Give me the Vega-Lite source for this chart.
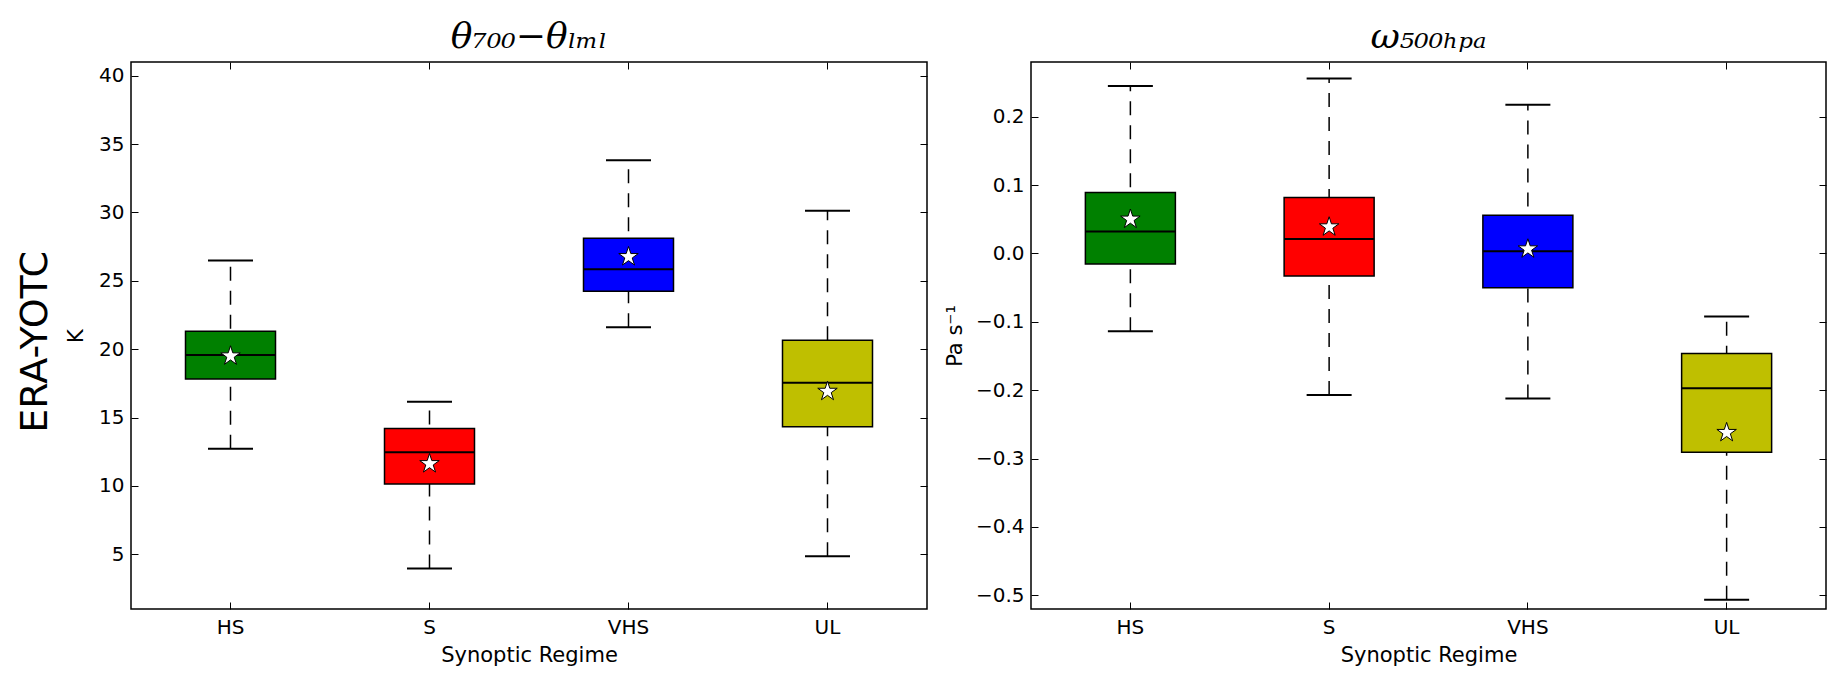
{
  "$schema": "https://vega.github.io/schema/vega-lite/v6.json",
  "background": "white",
  "padding": {"left": 16, "top": 17, "right": 10, "bottom": 2},
  "title": {"text": "ERA-YOTC", "orient": "left", "anchor": "middle", "font": "DejaVu Sans", "fontSize": 38, "fontWeight": "normal", "color": "black", "offset": 10},
  "datasets": {
    "theta": [
      {"regime": "HS", "lower": 12.72, "q1": 17.82, "median": 19.58, "q3": 21.31, "upper": 26.48, "mean": 19.5},
      {"regime": "S", "lower": 3.97, "q1": 10.14, "median": 12.47, "q3": 14.2, "upper": 16.15, "mean": 11.62},
      {"regime": "VHS", "lower": 21.6, "q1": 24.24, "median": 25.85, "q3": 28.12, "upper": 33.81, "mean": 26.76},
      {"regime": "UL", "lower": 4.85, "q1": 14.33, "median": 17.54, "q3": 20.65, "upper": 30.13, "mean": 16.91}
    ],
    "omega": [
      {"regime": "HS", "lower": -0.1137, "q1": -0.0155, "median": 0.032, "q3": 0.089, "upper": 0.245, "mean": 0.05},
      {"regime": "S", "lower": -0.207, "q1": -0.033, "median": 0.021, "q3": 0.082, "upper": 0.256, "mean": 0.0387},
      {"regime": "VHS", "lower": -0.212, "q1": -0.05, "median": 0.0034, "q3": 0.056, "upper": 0.2175, "mean": 0.0065},
      {"regime": "UL", "lower": -0.5065, "q1": -0.2906, "median": -0.197, "q3": -0.1464, "upper": -0.0923, "mean": -0.262}
    ]
  },
  "hconcat": [
    {
      "width": 796,
      "height": 547,
      "data": {"name": "theta"},
      "title": {"text": "θ₇₀₀−θₗₘₗ", "font": "DejaVu Serif", "fontStyle": "italic", "fontSize": 36, "fontWeight": "normal", "color": "black", "offset": 6},
      "layer": [
        {
          "mark": {"type": "rule", "strokeDash": [14, 10], "strokeWidth": 1.5, "color": "black"},
          "encoding": {
            "x": {"field": "regime", "type": "nominal", "scale": {"type": "band", "domain": ["HS", "S", "VHS", "UL"], "paddingInner": 0, "paddingOuter": 0},
                  "axis": {"orient": "bottom", "title": "Synoptic Regime", "labelAngle": 0, "bandPosition": 0.5, "tickSize": -7, "labelPadding": 15, "titlePadding": 7, "titleFontSize": 21}},
            "y": {"field": "lower", "type": "quantitative", "scale": {"domain": [1, 41], "nice": false, "zero": false},
                  "axis": {"orient": "left", "title": "K", "values": [5, 10, 15, 20, 25, 30, 35, 40], "tickSize": -7, "labelPadding": 14, "titlePadding": 12, "titleFontSize": 21}},
            "y2": {"field": "upper"}
          }
        },
        {
          "mark": {"type": "bar", "width": 90, "stroke": "black", "strokeWidth": 1.5, "opacity": 1},
          "encoding": {
            "x": {"field": "regime", "type": "nominal", "scale": {"type": "band", "domain": ["HS", "S", "VHS", "UL"], "paddingInner": 0, "paddingOuter": 0}, "axis": null},
            "y": {"field": "q1", "type": "quantitative", "axis": null},
            "y2": {"field": "q3"},
            "color": {"field": "regime", "type": "nominal", "scale": {"domain": ["HS", "S", "VHS", "UL"], "range": ["#008000", "#ff0000", "#0000ff", "#bfbf00"]}, "legend": null}
          }
        },
        {
          "mark": {"type": "tick", "size": 90, "thickness": 2, "color": "black", "opacity": 1},
          "encoding": {
            "x": {"field": "regime", "type": "nominal", "scale": {"type": "band", "domain": ["HS", "S", "VHS", "UL"], "paddingInner": 0, "paddingOuter": 0}, "axis": null},
            "y": {"field": "median", "type": "quantitative", "axis": null}
          }
        },
        {
          "mark": {"type": "tick", "size": 45, "thickness": 2, "color": "black", "opacity": 1},
          "encoding": {
            "x": {"field": "regime", "type": "nominal", "scale": {"type": "band", "domain": ["HS", "S", "VHS", "UL"], "paddingInner": 0, "paddingOuter": 0}, "axis": null},
            "y": {"field": "lower", "type": "quantitative", "axis": null}
          }
        },
        {
          "mark": {"type": "tick", "size": 45, "thickness": 2, "color": "black", "opacity": 1},
          "encoding": {
            "x": {"field": "regime", "type": "nominal", "scale": {"type": "band", "domain": ["HS", "S", "VHS", "UL"], "paddingInner": 0, "paddingOuter": 0}, "axis": null},
            "y": {"field": "upper", "type": "quantitative", "axis": null}
          }
        },
        {
          "mark": {"type": "point", "shape": "M0,-1L0.2245,-0.309L0.951,-0.309L0.363,0.118L0.588,0.809L0,0.382L-0.588,0.809L-0.363,0.118L-0.951,-0.309L-0.2245,-0.309Z", "size": 420, "filled": true, "fill": "white", "stroke": "black", "strokeWidth": 1, "opacity": 1},
          "encoding": {
            "x": {"field": "regime", "type": "nominal", "scale": {"type": "band", "domain": ["HS", "S", "VHS", "UL"], "paddingInner": 0, "paddingOuter": 0},
                  "axis": {"orient": "top", "labels": false, "title": null, "bandPosition": 0.5, "tickSize": -7}},
            "y": {"field": "mean", "type": "quantitative",
                  "axis": {"orient": "right", "labels": false, "title": null, "values": [5, 10, 15, 20, 25, 30, 35, 40], "tickSize": -7}}
          }
        }
      ],
      "resolve": {"axis": {"x": "independent", "y": "independent"}}
    },
    {
      "width": 795,
      "height": 547,
      "data": {"name": "omega"},
      "title": {"text": "ω₅₀₀ₕₚₐ", "font": "DejaVu Serif", "fontStyle": "italic", "fontSize": 36, "fontWeight": "normal", "color": "black", "offset": 6},
      "layer": [
        {
          "mark": {"type": "rule", "strokeDash": [14, 10], "strokeWidth": 1.5, "color": "black"},
          "encoding": {
            "x": {"field": "regime", "type": "nominal", "scale": {"type": "band", "domain": ["HS", "S", "VHS", "UL"], "paddingInner": 0, "paddingOuter": 0},
                  "axis": {"orient": "bottom", "title": "Synoptic Regime", "labelAngle": 0, "bandPosition": 0.5, "tickSize": -7, "labelPadding": 15, "titlePadding": 7, "titleFontSize": 21}},
            "y": {"field": "lower", "type": "quantitative", "scale": {"domain": [-0.52, 0.28], "nice": false, "zero": false},
                  "axis": {"orient": "left", "title": "Pa s⁻¹", "values": [-0.5, -0.4, -0.3, -0.2, -0.1, 0, 0.1, 0.2], "labelExpr": "replace(format(datum.value, '.1f'), '-', '−')", "tickSize": -7, "labelPadding": 14, "titlePadding": 10, "titleFontSize": 21}},
            "y2": {"field": "upper"}
          }
        },
        {
          "mark": {"type": "bar", "width": 90, "stroke": "black", "strokeWidth": 1.5, "opacity": 1},
          "encoding": {
            "x": {"field": "regime", "type": "nominal", "scale": {"type": "band", "domain": ["HS", "S", "VHS", "UL"], "paddingInner": 0, "paddingOuter": 0}, "axis": null},
            "y": {"field": "q1", "type": "quantitative", "axis": null},
            "y2": {"field": "q3"},
            "color": {"field": "regime", "type": "nominal", "scale": {"domain": ["HS", "S", "VHS", "UL"], "range": ["#008000", "#ff0000", "#0000ff", "#bfbf00"]}, "legend": null}
          }
        },
        {
          "mark": {"type": "tick", "size": 90, "thickness": 2, "color": "black", "opacity": 1},
          "encoding": {
            "x": {"field": "regime", "type": "nominal", "scale": {"type": "band", "domain": ["HS", "S", "VHS", "UL"], "paddingInner": 0, "paddingOuter": 0}, "axis": null},
            "y": {"field": "median", "type": "quantitative", "axis": null}
          }
        },
        {
          "mark": {"type": "tick", "size": 45, "thickness": 2, "color": "black", "opacity": 1},
          "encoding": {
            "x": {"field": "regime", "type": "nominal", "scale": {"type": "band", "domain": ["HS", "S", "VHS", "UL"], "paddingInner": 0, "paddingOuter": 0}, "axis": null},
            "y": {"field": "lower", "type": "quantitative", "axis": null}
          }
        },
        {
          "mark": {"type": "tick", "size": 45, "thickness": 2, "color": "black", "opacity": 1},
          "encoding": {
            "x": {"field": "regime", "type": "nominal", "scale": {"type": "band", "domain": ["HS", "S", "VHS", "UL"], "paddingInner": 0, "paddingOuter": 0}, "axis": null},
            "y": {"field": "upper", "type": "quantitative", "axis": null}
          }
        },
        {
          "mark": {"type": "point", "shape": "M0,-1L0.2245,-0.309L0.951,-0.309L0.363,0.118L0.588,0.809L0,0.382L-0.588,0.809L-0.363,0.118L-0.951,-0.309L-0.2245,-0.309Z", "size": 420, "filled": true, "fill": "white", "stroke": "black", "strokeWidth": 1, "opacity": 1},
          "encoding": {
            "x": {"field": "regime", "type": "nominal", "scale": {"type": "band", "domain": ["HS", "S", "VHS", "UL"], "paddingInner": 0, "paddingOuter": 0},
                  "axis": {"orient": "top", "labels": false, "title": null, "bandPosition": 0.5, "tickSize": -7}},
            "y": {"field": "mean", "type": "quantitative",
                  "axis": {"orient": "right", "labels": false, "title": null, "values": [-0.5, -0.4, -0.3, -0.2, -0.1, 0, 0.1, 0.2], "tickSize": -7}}
          }
        }
      ],
      "resolve": {"axis": {"x": "independent", "y": "independent"}}
    }
  ],
  "spacing": 104,
  "bounds": "flush",
  "config": {
    "view": {"stroke": "black", "strokeWidth": 1.5},
    "axis": {"grid": false, "domain": false, "ticks": true, "tickColor": "black", "tickWidth": 1, "labelFont": "DejaVu Sans", "labelFontSize": 20, "labelColor": "black", "titleFont": "DejaVu Sans", "titleFontWeight": "normal", "titleColor": "black"}
  }
}
